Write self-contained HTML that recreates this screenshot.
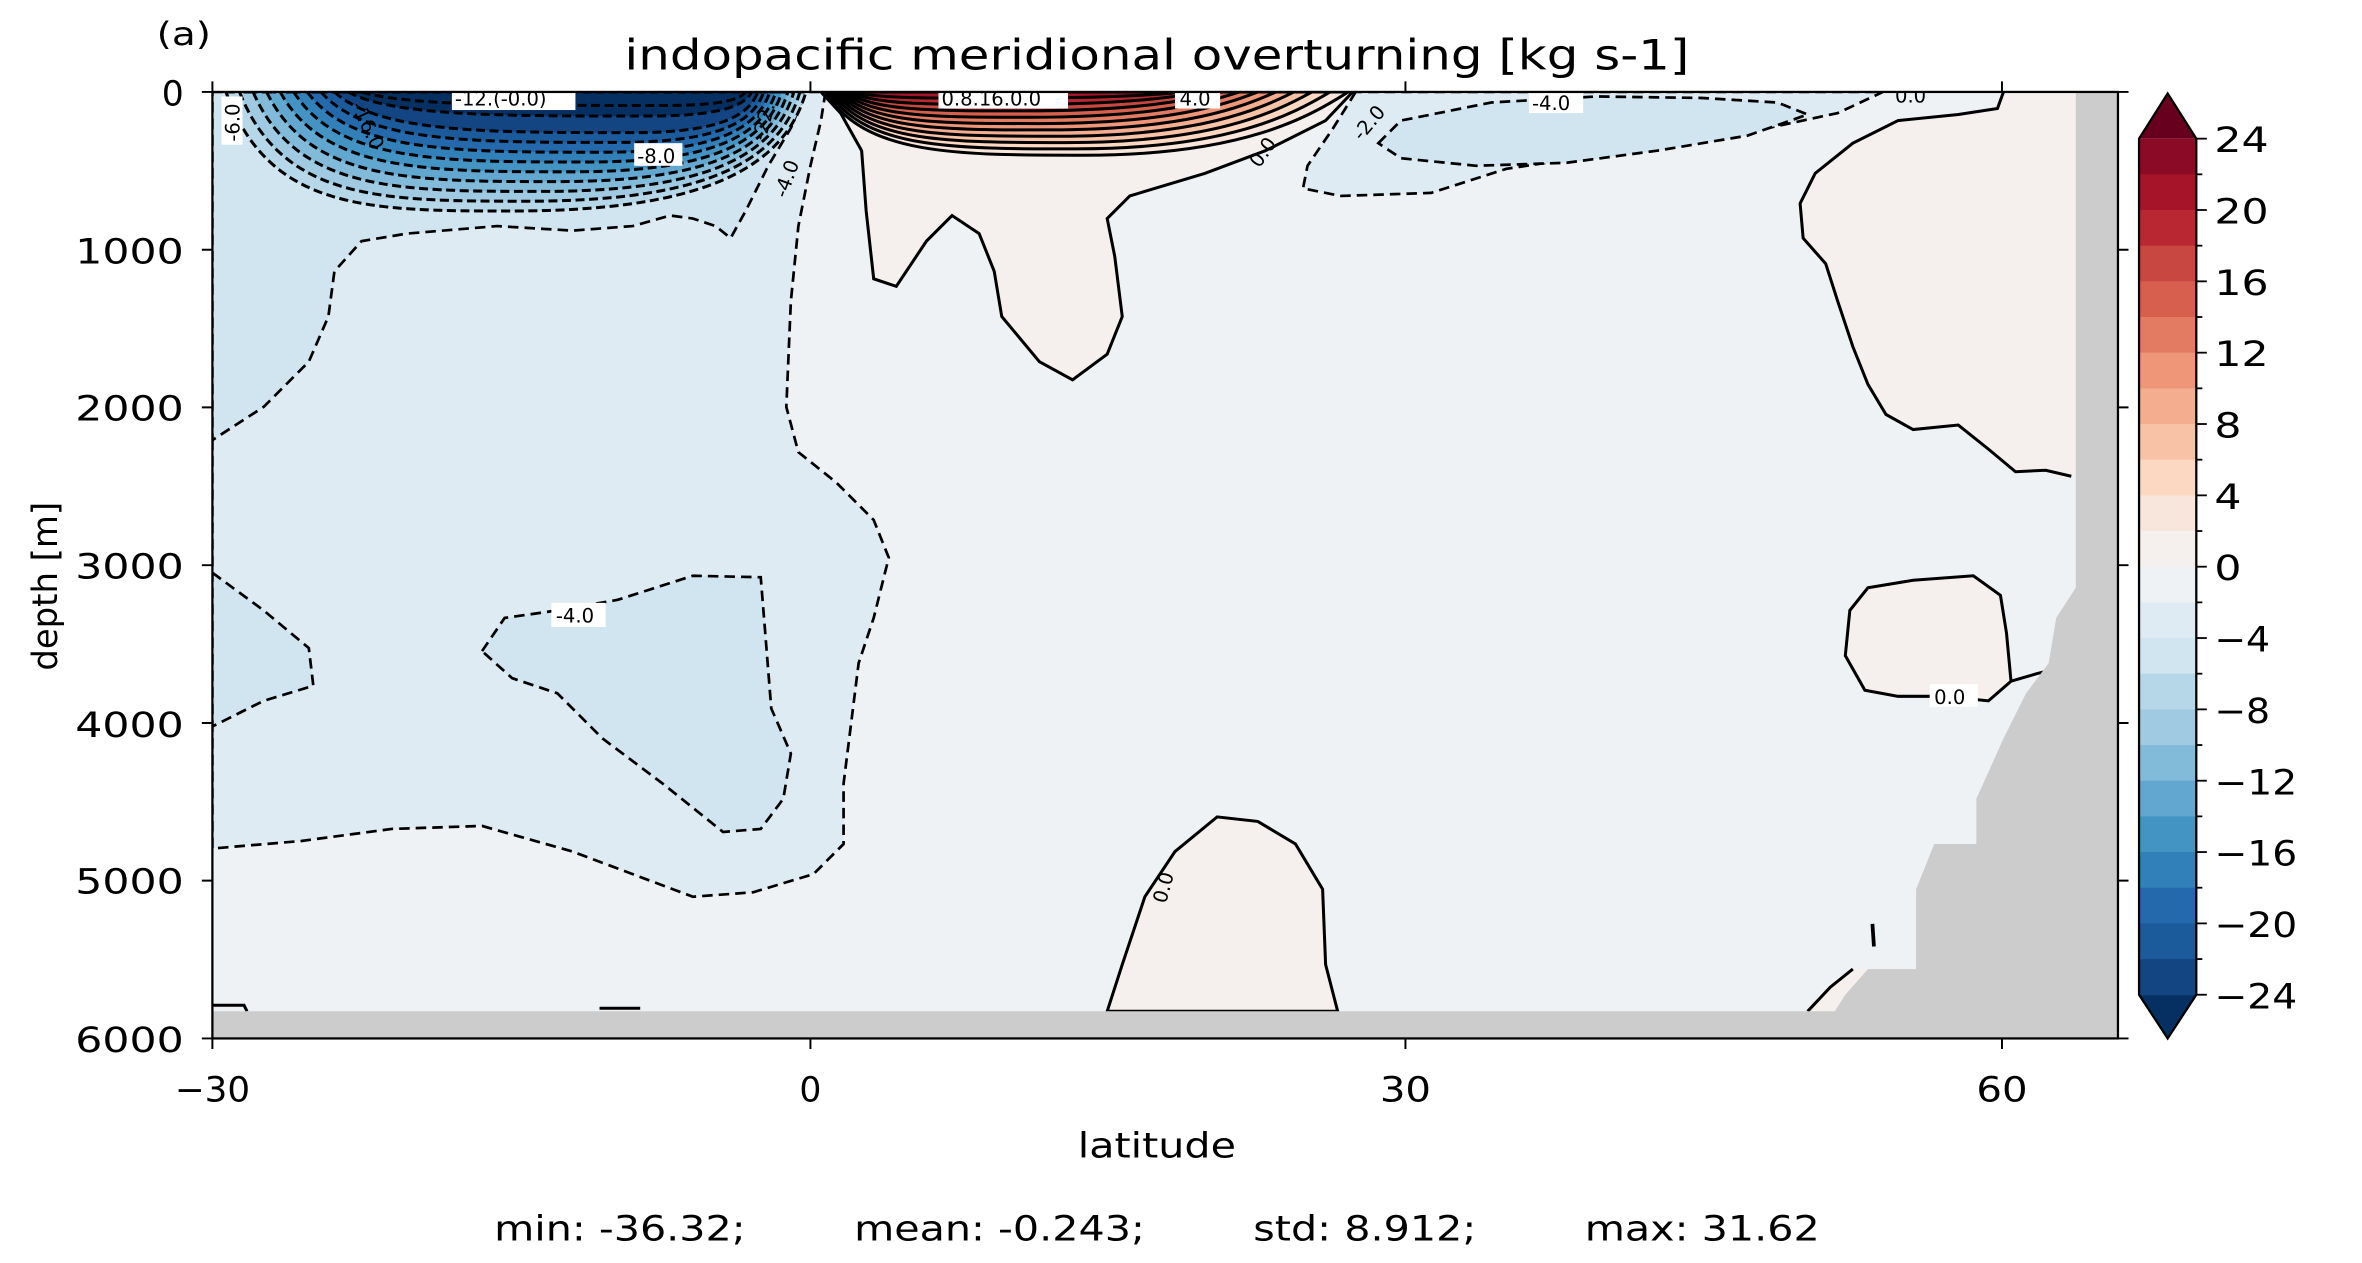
<!DOCTYPE html>
<html><head><meta charset="utf-8"><style>
html,body{margin:0;padding:0;background:#fff;}
svg{display:block;}
text{font-family:"DejaVu Sans","Liberation Sans",sans-serif;fill:#000;}
</style></head><body>
<svg id="s" width="2362" height="1263" viewBox="0 0 1568 838" preserveAspectRatio="none" xmlns="http://www.w3.org/2000/svg">
<defs><clipPath id="pc"><rect x="141" y="61" width="1265" height="628"/></clipPath></defs>
<g clip-path="url(#pc)">
<rect x="141" y="61" width="1265" height="628" fill="#eef2f5"/>
<path d="M141,61 L548,61 L545,80 L538,110 L530,150 L525,200 L522,270 L530,300 L555,320 L580,345 L590,370 L580,410 L570,440 L565,480 L560,520 L560,560 L540,580 L500,592 L460,595 L420,580 L380,565 L320,548 L260,550 L200,558 L141,563 Z" fill="#deebf3" stroke="#000" stroke-width="1.8" stroke-dasharray="7,4"/>
<path d="M141,61 L535,61 L525,85 L510,110 L495,140 L485,158 L475,150 L460,145 L445,143 L420,150 L380,153 L330,150 L270,155 L240,160 L222,180 L218,210 L205,240 L175,270 L141,292 Z" fill="#d1e5f0" stroke="#000" stroke-width="1.8" stroke-dasharray="7,4"/>
<path d="M141,380 L175,405 L205,430 L208,455 L175,465 L141,482 Z" fill="#d1e5f0" stroke="#000" stroke-width="1.8" stroke-dasharray="7,4"/>
<path d="M320,432 L335,410 L370,405 L410,398 L460,382 L505,383 L508,420 L512,470 L525,500 L520,530 L505,550 L480,552 L440,520 L400,490 L370,460 L340,450 Z" fill="#d1e5f0" stroke="#000" stroke-width="1.8" stroke-dasharray="7,4"/>
<path d="M900,61 L885,85 L868,110 L865,125 L890,130 L950,128 L1000,112 L1080,100 L1150,90 L1220,75 L1250,61 Z" fill="#deebf3" stroke="#000" stroke-width="1.8" stroke-dasharray="7,4"/>
<path d="M915,95 L930,80 L990,68 L1060,64 L1130,65 L1180,68 L1200,76 L1160,90 L1100,100 L1040,108 L980,110 L930,105 Z" fill="#d1e5f0" stroke="#000" stroke-width="1.8" stroke-dasharray="7,4"/>
<path d="M545,61 L558,75 L572,100 L575,140 L580,185 L595,190 L615,160 L632,143 L650,155 L660,180 L665,210 L690,240 L712,252 L735,235 L745,210 L740,170 L735,145 L750,130 L800,115 L840,100 L880,80 L898,61 Z" fill="#f5f0ed" stroke="#000" stroke-width="2"/>
<path d="M1255,61 L1330,61 L1326,72 L1300,76 L1260,80 L1230,95 L1205,115 L1195,135 L1197,158 L1212,175 L1220,200 L1230,230 L1240,255 L1252,275 L1270,285 L1300,282 L1320,298 L1338,313 L1358,312 L1370,318 L1378,316 L1378,61 Z" fill="#f5f0ed"/>
<path d="M1330,61 L1326,72 L1300,76 L1260,80 L1230,95 L1205,115 L1195,135 L1197,158 L1212,175 L1220,200 L1230,230 L1240,255 L1252,275 L1270,285 L1300,282 L1320,298 L1338,313 L1358,312 L1375,316" fill="none" stroke="#000" stroke-width="2"/>
<path d="M1240,390 L1270,385 L1310,382 L1328,395 L1332,420 L1335,452 L1320,465 L1290,462 L1260,462 L1238,458 L1225,435 L1228,405 Z" fill="#f5f0ed" stroke="#000" stroke-width="2"/>
<path d="M1335,452 L1352,447 L1360,445" fill="none" stroke="#000" stroke-width="2"/>
<path d="M735,671 L745,640 L760,595 L780,565 L808,542 L835,545 L860,560 L878,590 L880,640 L888,671 Z" fill="#f5f0ed" stroke="#000" stroke-width="2"/>
<path d="M1200,671 L1215,655 L1228,643 L1240,643 L1225,662 L1218,671 Z" fill="#f5f0ed"/>
<path d="M1200,671 L1215,655 L1230,643" fill="none" stroke="#000" stroke-width="2"/>
<path d="M1243,613 L1244,628" stroke="#000" stroke-width="2.5"/>
<path d="M141,667 L162,667 L164,671 M398,669 L425,669" fill="none" stroke="#000" stroke-width="2"/>
<g id="gyre"></g>
<g id="pos"></g>
<path d="M1378,61 L1406,61 L1406,689 L141,689 L141,671 L1218,671 L1225,660 L1240,643 L1272,643 L1272,590 L1284,560 L1312,560 L1312,530 L1330,490 L1345,460 L1360,440 L1365,410 L1378,390 Z" fill="#cccccc"/>
<g font-size="13">
<rect x="147" y="64" width="14" height="32" fill="#fff"/><text transform="translate(159,94) rotate(-90)">-6.0</text>
<rect x="300" y="58" width="82" height="15" fill="#fff"/><text x="302" y="70">-12.(-0.0)</text>
<rect x="421" y="95" width="32" height="15" fill="#fff"/><text x="423" y="108">-8.0</text>
<rect x="623" y="58" width="86" height="14" fill="#fff"/><text x="625" y="70">0.8.16.0.0</text>
<rect x="780" y="58" width="30" height="14" fill="#fff"/><text x="783" y="70">4.0</text>
<rect x="1015" y="60" width="36" height="15" fill="#fff"/><text x="1017" y="73">-4.0</text>
<text x="1258" y="68">0.0</text>
<rect x="366" y="400" width="36" height="16" fill="#fff"/><text x="369" y="413">-4.0</text>
<rect x="1281" y="454" width="32" height="15" fill="#fff"/><text x="1284" y="467">0.0</text>
<text transform="translate(774,600) rotate(-75)">0.0</text>
<text transform="translate(836,112) rotate(-55)">0.0</text>
<text transform="translate(904,94) rotate(-50)">-2.0</text>
<text transform="translate(522,132) rotate(-70)">-4.0</text>
<text transform="translate(508,94) rotate(-75)">-22.</text>
<text transform="translate(233,70) rotate(65)">-16.0</text>
</g>
</g>
<rect x="141" y="61" width="1265" height="628" fill="none" stroke="#000" stroke-width="1.5"/>
<g stroke="#000" stroke-width="1.3">
<path d="M141,689v7M538,689v7M933,689v7M1329,689v7 M141,61v-7M538,61v-7M933,61v-7M1329,61v-7"/>
<path d="M141,61h-7M141,165.7h-7M141,270.3h-7M141,375h-7M141,479.7h-7M141,584.3h-7M141,689h-7"/>
<path d="M1406,61h7M1406,165.7h7M1406,270.3h7M1406,375h7M1406,479.7h7M1406,584.3h7M1406,689h7"/>
</g>
<g font-size="23" text-anchor="end">
<text x="122" y="70">0</text>
<text x="122" y="175" textLength="72" lengthAdjust="spacingAndGlyphs">1000</text>
<text x="122" y="279" textLength="72" lengthAdjust="spacingAndGlyphs">2000</text>
<text x="122" y="384" textLength="72" lengthAdjust="spacingAndGlyphs">3000</text>
<text x="122" y="489" textLength="72" lengthAdjust="spacingAndGlyphs">4000</text>
<text x="122" y="593" textLength="72" lengthAdjust="spacingAndGlyphs">5000</text>
<text x="122" y="698" textLength="72" lengthAdjust="spacingAndGlyphs">6000</text>
</g>
<g font-size="23" text-anchor="middle">
<text x="141" y="731" textLength="50" lengthAdjust="spacingAndGlyphs">−30</text>
<text x="538" y="731">0</text>
<text x="933" y="731" textLength="34" lengthAdjust="spacingAndGlyphs">30</text>
<text x="1329" y="731" textLength="34" lengthAdjust="spacingAndGlyphs">60</text>
<text x="768" y="768" textLength="105" lengthAdjust="spacingAndGlyphs">latitude</text>
<text x="768" y="46" font-size="28" textLength="707" lengthAdjust="spacingAndGlyphs">indopacific meridional overturning [kg s-1]</text>
</g>
<text x="104" y="30" font-size="21" textLength="36" lengthAdjust="spacingAndGlyphs">(a)</text>
<text transform="translate(38,389) rotate(-90)" font-size="23" text-anchor="middle" textLength="112" lengthAdjust="spacingAndGlyphs">depth [m]</text>
<g font-size="23">
<text x="328" y="823" textLength="167" lengthAdjust="spacingAndGlyphs">min: -36.32;</text>
<text x="567" y="823" textLength="193" lengthAdjust="spacingAndGlyphs">mean: -0.243;</text>
<text x="832" y="823" textLength="148" lengthAdjust="spacingAndGlyphs">std: 8.912;</text>
<text x="1052" y="823" textLength="156" lengthAdjust="spacingAndGlyphs">max: 31.62</text>
</g>
<g id="cb"></g>
</svg>
<script>
var NS="http://www.w3.org/2000/svg";
function el(p,t,a){var e=document.createElementNS(NS,t);for(var k in a)e.setAttribute(k,a[k]);p.appendChild(e);return e;}
var cols=["#8b0a26","#a51429","#b92732","#c94741","#d6604d","#e27b62","#ee9677","#f4ad8e","#f8c2a6","#fcd7c2","#f8e5db","#f5f0ed","#eef2f5","#deebf3","#d1e5f0","#b6d7e8","#9fcae1","#82bbd9","#62a7cf","#4393c3","#3280b9","#2469ac","#1b5a9b","#134582"];
var cb=document.getElementById("cb");
var x0=1420,x1=1458,y0=92,y1=660,h=(y1-y0)/24,xm=(x0+x1)/2;
el(cb,"path",{d:"M"+x0+","+y0+" L"+xm+",62 L"+x1+","+y0+" Z",fill:"#67001f"});
el(cb,"path",{d:"M"+x0+","+y1+" L"+xm+",689 L"+x1+","+y1+" Z",fill:"#053061"});
for(var i=0;i<24;i++)el(cb,"rect",{x:x0,y:y0+i*h,width:x1-x0,height:h+0.4,fill:cols[i]});
el(cb,"path",{d:"M"+x0+","+y0+" L"+xm+",62 L"+x1+","+y0+" L"+x1+","+y1+" L"+xm+",689 L"+x0+","+y1+" Z",fill:"none",stroke:"#000","stroke-width":1.5});
var labs=["24","20","16","12","8","4","0","−4","−8","−12","−16","−20","−24"];
for(var i=0;i<=24;i++){var y=y0+i*h;el(cb,"line",{x1:x1,x2:x1+(i%2?4:7),y1:y,y2:y,stroke:"#000","stroke-width":1.2});
if(i%2==0){var L=labs[i/2];var w=L.length*18+(L[0]=="−"?1:0);var t=el(cb,"text",{x:1470,y:y+9,"font-size":23,textLength:w,lengthAdjust:"spacingAndGlyphs"});t.textContent=L;}}
var g=document.getElementById("gyre");
var neg=["#b6d7e8","#9fcae1","#82bbd9","#62a7cf","#4393c3","#3280b9","#2469ac","#1b5a9b","#134582","#053061","#053061"];
for(var k=0;k<11;k++){
 var xl=150+k*9,xr=535-k*4,yb=140-k*6.5,cx=340+k*10;
 if(k>=9){yb=140-k*7;}
 var d="M"+xl+",61 C"+(xl+(cx-xl)*0.15)+","+yb+" "+(cx-(cx-xl)*0.5)+","+yb+" "+cx+","+yb+" C"+(cx+(xr-cx)*0.6)+","+yb+" "+(xr-(xr-cx)*0.08)+","+(yb-(yb-61)*0.3)+" "+xr+",61 Z";
 el(g,"path",{d:d,fill:neg[k],stroke:"#000","stroke-width":2,"stroke-dasharray":"6,3"});
}
var p=document.getElementById("pos");
var posc=["#f8e5db","#fcd7c2","#f8c2a6","#f4ad8e","#ee9677","#e27b62","#d6604d","#c94741","#b92732","#a51429"];
for(var k=0;k<10;k++){
 var xl=548+k*2,xr=895-k*12,yb=103-k*4.2,cx=720-k*6;
 var d="M"+xl+",61 C"+(xl+(cx-xl)*0.15)+","+yb+" "+(cx-(cx-xl)*0.5)+","+yb+" "+cx+","+yb+" C"+(cx+(xr-cx)*0.6)+","+yb+" "+(xr-(xr-cx)*0.15)+","+(yb-(yb-61)*0.6)+" "+xr+",61 Z";
 el(p,"path",{d:d,fill:posc[k],stroke:"#000","stroke-width":2});
}
</script>
</body></html>
